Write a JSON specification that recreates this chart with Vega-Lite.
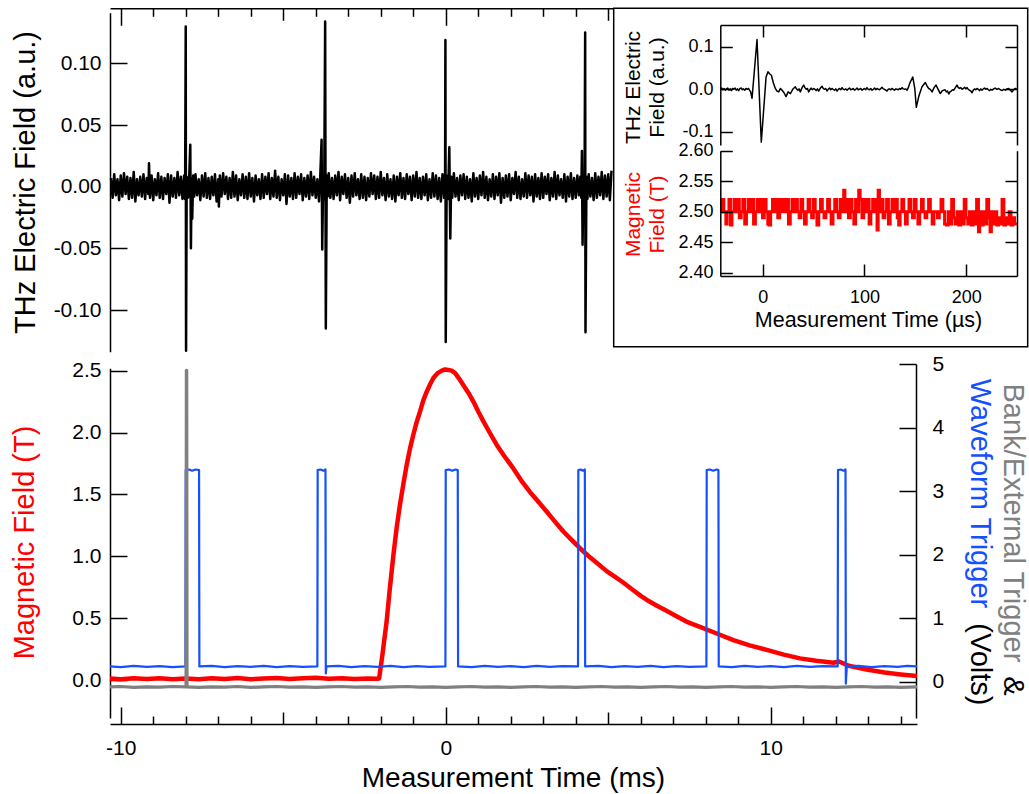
{
"$schema": "https://vega.github.io/schema/vega-lite/v6.json",
"width": 1029, "height": 794, "padding": 0, "autosize": {"type": "none"},
"background": "white",
"config": {
  "view": {"stroke": null},
  "font": "Liberation Sans",
  "axis": {"domainColor": "black", "tickColor": "black", "domainWidth": 1.5, "tickWidth": 1.5, "labelFont": "Liberation Sans", "titleFont": "Liberation Sans", "labelColor": "black", "titleColor": "black", "labelFontSize": 21, "titleFontSize": 29, "titleFontWeight": "normal", "grid": false, "labelFlush": false, "labelOverlap": false, "labelBound": false, "titlePadding": 0}
},
"resolve": {"scale": {"x": "independent", "y": "independent"}, "axis": {"x": "independent", "y": "independent"}},
"layer": [
{
  "data": {"values": [
{"t":-10.30,"e":0.007},{"t":-10.25,"e":-0.009},{"t":-10.20,"e":0.010},{"t":-10.15,"e":-0.007},{"t":-10.10,"e":0.006},{"t":-10.05,"e":-0.011},{"t":-10.00,"e":0.009},{"t":-9.95,"e":-0.008},{"t":-9.90,"e":0.011},{"t":-9.85,"e":-0.006},{"t":-9.80,"e":0.008},{"t":-9.75,"e":-0.010},{"t":-9.70,"e":0.007},{"t":-9.65,"e":-0.009},{"t":-9.60,"e":0.012},{"t":-9.55,"e":-0.012},{"t":-9.50,"e":0.006},{"t":-9.45,"e":-0.007},{"t":-9.40,"e":0.008},{"t":-9.35,"e":-0.008},{"t":-9.30,"e":0.010},{"t":-9.25,"e":-0.010},{"t":-9.20,"e":0.007},{"t":-9.15,"e":-0.006},{"t":-9.13,"e":0.019},{"t":-9.10,"e":-0.009},{"t":-9.05,"e":0.009},{"t":-9.00,"e":-0.011},{"t":-8.95,"e":0.006},{"t":-8.90,"e":-0.007},{"t":-8.85,"e":0.011},{"t":-8.80,"e":-0.009},{"t":-8.75,"e":0.008},{"t":-8.70,"e":-0.010},{"t":-8.65,"e":0.007},{"t":-8.60,"e":-0.006},{"t":-8.55,"e":0.010},{"t":-8.50,"e":-0.013},{"t":-8.45,"e":0.009},{"t":-8.40,"e":-0.008},{"t":-8.35,"e":0.007},{"t":-8.30,"e":-0.009},{"t":-8.25,"e":0.012},{"t":-8.20,"e":-0.007},{"t":-8.15,"e":0.008},{"t":-8.10,"e":-0.010},{"t":-8.05,"e":0.009},
{"t":-8.02,"e":-0.010},{"t":-8.00,"e":0.130},{"t":-7.99,"e":-0.133},{"t":-7.97,"e":0.008},{"t":-7.93,"e":-0.009},{"t":-7.89,"e":0.010},{"t":-7.86,"e":0.034},{"t":-7.84,"e":-0.050},{"t":-7.82,"e":0.007},{"t":-7.80,"e":-0.026},{"t":-7.77,"e":0.009},{"t":-7.74,"e":-0.008},
{"t":-7.70,"e":0.010},{"t":-7.65,"e":-0.007},{"t":-7.60,"e":0.006},{"t":-7.55,"e":-0.011},{"t":-7.50,"e":0.009},{"t":-7.45,"e":-0.008},{"t":-7.40,"e":0.011},{"t":-7.35,"e":-0.009},{"t":-7.30,"e":0.007},{"t":-7.25,"e":-0.010},{"t":-7.20,"e":0.008},{"t":-7.15,"e":-0.007},{"t":-7.10,"e":0.010},{"t":-7.05,"e":-0.012},{"t":-7.00,"e":0.006},{"t":-6.98,"e":-0.016},{"t":-6.95,"e":0.009},{"t":-6.90,"e":-0.008},{"t":-6.85,"e":0.011},{"t":-6.80,"e":-0.006},{"t":-6.75,"e":0.008},{"t":-6.70,"e":-0.010},{"t":-6.65,"e":0.007},{"t":-6.60,"e":-0.009},{"t":-6.55,"e":0.012},{"t":-6.50,"e":-0.008},{"t":-6.45,"e":0.009},{"t":-6.40,"e":-0.011},{"t":-6.35,"e":0.006},{"t":-6.30,"e":-0.007},{"t":-6.25,"e":0.010},{"t":-6.20,"e":-0.009},{"t":-6.15,"e":0.008},{"t":-6.10,"e":-0.010},{"t":-6.05,"e":0.011},{"t":-6.00,"e":-0.008},{"t":-5.95,"e":0.007},{"t":-5.90,"e":-0.012},{"t":-5.85,"e":0.009},{"t":-5.80,"e":-0.007},{"t":-5.75,"e":0.006},{"t":-5.70,"e":-0.010},{"t":-5.65,"e":0.010},{"t":-5.60,"e":-0.009},{"t":-5.55,"e":0.008},{"t":-5.50,"e":-0.006},{"t":-5.45,"e":0.011},{"t":-5.40,"e":-0.010},{"t":-5.35,"e":0.007},{"t":-5.30,"e":-0.008},{"t":-5.25,"e":0.013},{"t":-5.20,"e":-0.009},{"t":-5.15,"e":0.008},{"t":-5.10,"e":-0.011},{"t":-5.05,"e":0.006},{"t":-5.00,"e":-0.007},{"t":-4.95,"e":0.010},{"t":-4.90,"e":-0.014},{"t":-4.85,"e":0.009},{"t":-4.80,"e":-0.008},{"t":-4.75,"e":0.007},{"t":-4.70,"e":-0.010},{"t":-4.65,"e":0.011},{"t":-4.60,"e":-0.009},{"t":-4.55,"e":0.008},{"t":-4.50,"e":-0.006},{"t":-4.45,"e":0.010},{"t":-4.40,"e":-0.011},{"t":-4.35,"e":0.007},{"t":-4.30,"e":-0.008},{"t":-4.25,"e":0.009},{"t":-4.20,"e":-0.010},{"t":-4.15,"e":0.012},{"t":-4.10,"e":-0.007},{"t":-4.05,"e":0.008},{"t":-4.00,"e":-0.009},{"t":-3.95,"e":0.006},{"t":-3.90,"e":-0.012},{"t":-3.86,"e":0.009},
{"t":-3.82,"e":0.038},{"t":-3.80,"e":-0.051},{"t":-3.77,"e":0.008},{"t":-3.74,"e":-0.010},{"t":-3.71,"e":0.134},{"t":-3.69,"e":-0.115},{"t":-3.66,"e":0.009},{"t":-3.63,"e":-0.008},
{"t":-3.60,"e":0.011},{"t":-3.55,"e":-0.009},{"t":-3.50,"e":0.007},{"t":-3.45,"e":-0.010},{"t":-3.40,"e":0.009},{"t":-3.35,"e":-0.007},{"t":-3.30,"e":0.012},{"t":-3.25,"e":-0.011},{"t":-3.20,"e":0.008},{"t":-3.15,"e":-0.006},{"t":-3.10,"e":0.010},{"t":-3.05,"e":-0.009},{"t":-3.00,"e":0.007},{"t":-2.95,"e":-0.013},{"t":-2.90,"e":0.009},{"t":-2.85,"e":-0.008},{"t":-2.80,"e":0.011},{"t":-2.75,"e":-0.007},{"t":-2.70,"e":0.006},{"t":-2.65,"e":-0.010},{"t":-2.60,"e":0.010},{"t":-2.55,"e":-0.009},{"t":-2.50,"e":0.008},{"t":-2.45,"e":-0.011},{"t":-2.40,"e":0.007},{"t":-2.35,"e":-0.008},{"t":-2.30,"e":0.011},{"t":-2.25,"e":-0.006},{"t":-2.20,"e":0.009},{"t":-2.15,"e":-0.010},{"t":-2.10,"e":0.008},{"t":-2.05,"e":-0.009},{"t":-2.00,"e":0.012},{"t":-1.95,"e":-0.007},{"t":-1.90,"e":0.007},{"t":-1.85,"e":-0.011},{"t":-1.80,"e":0.010},{"t":-1.75,"e":-0.008},{"t":-1.70,"e":0.006},{"t":-1.65,"e":-0.010},{"t":-1.60,"e":0.009},{"t":-1.55,"e":-0.012},{"t":-1.50,"e":0.008},{"t":-1.45,"e":-0.007},{"t":-1.40,"e":0.011},{"t":-1.35,"e":-0.009},{"t":-1.30,"e":0.007},{"t":-1.25,"e":-0.010},{"t":-1.20,"e":0.010},{"t":-1.15,"e":-0.006},{"t":-1.10,"e":0.008},{"t":-1.05,"e":-0.011},{"t":-1.00,"e":0.009},{"t":-0.95,"e":-0.008},{"t":-0.90,"e":0.012},{"t":-0.85,"e":-0.009},{"t":-0.80,"e":0.007},{"t":-0.75,"e":-0.010},{"t":-0.70,"e":0.008},{"t":-0.65,"e":-0.007},{"t":-0.60,"e":0.010},{"t":-0.55,"e":-0.011},{"t":-0.50,"e":0.006},{"t":-0.45,"e":-0.009},{"t":-0.40,"e":0.011},{"t":-0.35,"e":-0.008},{"t":-0.30,"e":0.009},{"t":-0.25,"e":-0.010},{"t":-0.20,"e":0.007},{"t":-0.15,"e":-0.012},{"t":-0.10,"e":0.010},{"t":-0.05,"e":-0.009},
{"t":-0.02,"e":0.008},{"t":-0.01,"e":0.119},{"t":0.00,"e":-0.126},{"t":0.03,"e":0.009},{"t":0.07,"e":-0.010},{"t":0.11,"e":0.032},{"t":0.14,"e":-0.042},{"t":0.17,"e":0.008},{"t":0.20,"e":-0.009},
{"t":0.25,"e":0.011},{"t":0.30,"e":-0.008},{"t":0.35,"e":0.007},{"t":0.40,"e":-0.011},{"t":0.45,"e":0.009},{"t":0.50,"e":-0.007},{"t":0.55,"e":0.010},{"t":0.60,"e":-0.010},{"t":0.65,"e":0.008},{"t":0.70,"e":-0.009},{"t":0.75,"e":0.006},{"t":0.80,"e":-0.012},{"t":0.85,"e":0.011},{"t":0.90,"e":-0.008},{"t":0.95,"e":0.007},{"t":1.00,"e":-0.010},{"t":1.05,"e":0.009},{"t":1.10,"e":-0.007},{"t":1.15,"e":0.012},{"t":1.20,"e":-0.009},{"t":1.25,"e":0.008},{"t":1.30,"e":-0.011},{"t":1.35,"e":0.006},{"t":1.40,"e":-0.008},{"t":1.45,"e":0.010},{"t":1.50,"e":-0.010},{"t":1.55,"e":0.008},{"t":1.60,"e":-0.007},{"t":1.65,"e":0.011},{"t":1.70,"e":-0.013},{"t":1.75,"e":0.007},{"t":1.80,"e":-0.009},{"t":1.85,"e":0.009},{"t":1.90,"e":-0.008},{"t":1.95,"e":0.010},{"t":2.00,"e":-0.011},{"t":2.05,"e":0.007},{"t":2.10,"e":-0.006},{"t":2.15,"e":0.012},{"t":2.20,"e":-0.009},{"t":2.25,"e":0.008},{"t":2.30,"e":-0.010},{"t":2.35,"e":0.006},{"t":2.40,"e":-0.008},{"t":2.45,"e":0.011},{"t":2.50,"e":-0.009},{"t":2.55,"e":0.009},{"t":2.60,"e":-0.007},{"t":2.65,"e":0.008},{"t":2.70,"e":-0.012},{"t":2.75,"e":0.010},{"t":2.80,"e":-0.008},{"t":2.85,"e":0.007},{"t":2.90,"e":-0.010},{"t":2.95,"e":0.011},{"t":3.00,"e":-0.009},{"t":3.05,"e":0.008},{"t":3.10,"e":-0.006},{"t":3.15,"e":0.010},{"t":3.20,"e":-0.011},{"t":3.25,"e":0.007},{"t":3.30,"e":-0.008},{"t":3.35,"e":0.012},{"t":3.40,"e":-0.010},{"t":3.45,"e":0.009},{"t":3.50,"e":-0.007},{"t":3.55,"e":0.006},{"t":3.60,"e":-0.009},{"t":3.65,"e":0.010},{"t":3.70,"e":-0.012},{"t":3.75,"e":0.008},{"t":3.80,"e":-0.008},{"t":3.85,"e":0.011},{"t":3.90,"e":-0.010},{"t":3.95,"e":0.007},{"t":4.00,"e":-0.009},{"t":4.05,"e":0.009},{"t":4.10,"e":-0.007},{"t":4.14,"e":0.008},
{"t":4.17,"e":-0.009},{"t":4.19,"e":0.029},{"t":4.21,"e":-0.047},{"t":4.24,"e":0.009},{"t":4.27,"e":-0.008},{"t":4.29,"e":0.125},{"t":4.30,"e":-0.118},{"t":4.33,"e":0.008},{"t":4.36,"e":-0.010},
{"t":4.40,"e":0.010},{"t":4.45,"e":-0.008},{"t":4.50,"e":0.007},{"t":4.55,"e":-0.011},{"t":4.60,"e":0.011},{"t":4.65,"e":-0.009},{"t":4.70,"e":0.008},{"t":4.75,"e":-0.007},{"t":4.80,"e":0.012},{"t":4.85,"e":-0.010},{"t":4.90,"e":0.009},{"t":4.95,"e":-0.008},{"t":5.00,"e":0.010},{"t":5.05,"e":-0.011},{"t":5.10,"e":0.013}
  ]},
  "mark": {"type": "line", "color": "black", "strokeWidth": 2.5, "strokeJoin": "round"},
  "encoding": {
    "x": {"field": "t", "type": "quantitative",
      "scale": {"domain": [-10.33, 14.5], "range": [110, 917], "nice": false, "zero": false},
      "axis": {"orient": "top", "offset": -8.3, "values": [-10,-9,-8,-7,-6,-5,-4,-3,-2,-1,0,1,2,3,4,5,6,7,8,9,10,11,12,13,14], "tickSize": {"expr": "datum.value % 10 === 0 ? -17 : (datum.value % 5 === 0 ? -12 : -8)"}, "labels": false, "title": null, "zindex": 0}},
    "y": {"field": "e", "type": "quantitative",
      "scale": {"domain": [-0.1338, 0.1411], "range": [351.7, 12.7], "nice": false, "zero": false},
      "axis": {"orient": "left", "offset": -110, "values": [-0.1,-0.05,0,0.05,0.1], "format": ".2f", "labelExpr": "replace(datum.label, '−', '-')", "tickSize": -17, "labelPadding": 26, "title": "THz Electric Field (a.u.)", "titleX": -85, "titleY": 182, "titleAngle": 270, "titleAlign": "center", "titleBaseline": "middle", "zindex": 0}}
  }
},
{
  "data": {"values": [
{"t":-10.33,"b":0.012},{"t":-10.0,"b":0.006},{"t":-9.6,"b":0.014},{"t":-9.2,"b":0.008},{"t":-8.8,"b":0.015},{"t":-8.4,"b":0.007},{"t":-8.0,"b":0.013},{"t":-7.6,"b":0.006},{"t":-7.2,"b":0.014},{"t":-6.8,"b":0.009},{"t":-6.4,"b":0.016},{"t":-6.0,"b":0.007},{"t":-5.6,"b":0.012},{"t":-5.2,"b":0.017},{"t":-4.8,"b":0.009},{"t":-4.4,"b":0.014},{"t":-4.0,"b":0.018},{"t":-3.6,"b":0.010},{"t":-3.2,"b":0.015},{"t":-2.8,"b":0.009},{"t":-2.4,"b":0.013},{"t":-2.1,"b":0.010},
{"t":-2.05,"b":0.012},{"t":-1.95,"b":0.20},{"t":-1.82,"b":0.47},{"t":-1.72,"b":0.74},{"t":-1.61,"b":1.01},{"t":-1.51,"b":1.23},{"t":-1.41,"b":1.415},{"t":-1.30,"b":1.59},{"t":-1.20,"b":1.74},{"t":-1.10,"b":1.87},{"t":-1.00,"b":1.98},{"t":-0.90,"b":2.08},{"t":-0.79,"b":2.17},{"t":-0.69,"b":2.26},{"t":-0.585,"b":2.33},{"t":-0.48,"b":2.39},{"t":-0.38,"b":2.44},{"t":-0.25,"b":2.48},{"t":-0.12,"b":2.50},{"t":-0.02,"b":2.51},{"t":0.08,"b":2.506},{"t":0.18,"b":2.50},{"t":0.29,"b":2.48},{"t":0.40,"b":2.44},{"t":0.54,"b":2.385},{"t":0.70,"b":2.32},{"t":0.85,"b":2.25},{"t":1.00,"b":2.17},{"t":1.16,"b":2.09},{"t":1.35,"b":2.00},{"t":1.57,"b":1.90},{"t":1.80,"b":1.81},{"t":2.08,"b":1.71},{"t":2.33,"b":1.61},{"t":2.59,"b":1.52},{"t":2.85,"b":1.44},{"t":3.11,"b":1.36},{"t":3.36,"b":1.28},{"t":3.62,"b":1.20},{"t":3.88,"b":1.13},{"t":4.13,"b":1.065},{"t":4.40,"b":1.00},{"t":4.70,"b":0.935},{"t":4.95,"b":0.88},{"t":5.20,"b":0.835},{"t":5.45,"b":0.79},{"t":5.75,"b":0.73},{"t":6.00,"b":0.68},{"t":6.20,"b":0.645},{"t":6.50,"b":0.60},{"t":6.75,"b":0.565},{"t":7.10,"b":0.515},{"t":7.42,"b":0.47},{"t":7.82,"b":0.43},{"t":8.30,"b":0.38},{"t":8.85,"b":0.323},{"t":9.35,"b":0.28},{"t":9.88,"b":0.243},{"t":10.40,"b":0.205},{"t":10.90,"b":0.175},{"t":11.40,"b":0.155},{"t":11.93,"b":0.14},{"t":12.10,"b":0.15},{"t":12.40,"b":0.115},{"t":12.95,"b":0.085},{"t":13.50,"b":0.06},{"t":14.00,"b":0.045},{"t":14.50,"b":0.032}
  ]},
  "mark": {"type": "line", "color": "#ff0000", "strokeWidth": 4.5, "strokeJoin": "round"},
  "encoding": {
    "x": {"field": "t", "type": "quantitative",
      "scale": {"domain": [-10.33, 14.5], "range": [110, 917], "nice": false, "zero": false},
      "axis": {"orient": "bottom", "offset": -70, "values": [-10,-9,-8,-7,-6,-5,-4,-3,-2,-1,0,1,2,3,4,5,6,7,8,9,10,11,12,13,14], "format": "d", "tickSize": {"expr": "datum.value % 10 === 0 ? -17 : (datum.value % 5 === 0 ? -12 : -8)"}, "labelExpr": "datum.value % 10 === 0 ? replace(datum.label, '−', '-') : ''", "labelPadding": 30.7, "labelBaseline": "top", "title": "Measurement Time (ms)", "titleFontSize": 28, "titleX": 513, "titleY": 54.7, "titleAngle": 0, "titleAlign": "center", "titleBaseline": "middle", "zindex": 0}},
    "y": {"field": "b", "type": "quantitative",
      "scale": {"domain": [-0.307, 2.519], "range": [718, 368.3], "nice": false, "zero": false},
      "axis": {"orient": "left", "offset": -110, "values": [0,0.5,1,1.5,2,2.5], "format": ".1f", "tickSize": -17, "labelPadding": 26, "title": "Magnetic Field (T)", "titleColor": "#ff0000", "titleX": -86, "titleY": 542, "titleAngle": 270, "titleAlign": "center", "titleBaseline": "middle", "zindex": 0}}
  }
},
{
  "data": {"values": [
{"t":-10.33,"v":0.24},{"t":-10.0,"v":0.23},{"t":-9.6,"v":0.25},{"t":-9.2,"v":0.235},{"t":-8.8,"v":0.245},{"t":-8.4,"v":0.23},{"t":-8.01,"v":0.24},{"t":-8.00,"v":3.33},{"t":-7.9,"v":3.34},{"t":-7.8,"v":3.32},{"t":-7.7,"v":3.34},{"t":-7.59,"v":3.33},{"t":-7.58,"v":0.24},{"t":-7.2,"v":0.25},{"t":-6.8,"v":0.23},{"t":-6.4,"v":0.245},{"t":-6.0,"v":0.235},{"t":-5.6,"v":0.25},{"t":-5.2,"v":0.23},{"t":-4.8,"v":0.245},{"t":-4.4,"v":0.235},{"t":-3.95,"v":0.24},{"t":-3.94,"v":3.33},{"t":-3.85,"v":3.34},{"t":-3.76,"v":3.32},{"t":-3.70,"v":3.34},{"t":-3.69,"v":0.13},{"t":-3.67,"v":0.24},{"t":-3.3,"v":0.25},{"t":-2.9,"v":0.23},{"t":-2.5,"v":0.245},{"t":-2.1,"v":0.235},{"t":-1.7,"v":0.25},{"t":-1.3,"v":0.23},{"t":-0.9,"v":0.245},{"t":-0.5,"v":0.235},{"t":-0.01,"v":0.24},{"t":0.00,"v":3.33},{"t":0.10,"v":3.34},{"t":0.20,"v":3.32},{"t":0.30,"v":3.34},{"t":0.37,"v":3.33},{"t":0.38,"v":0.24},{"t":0.8,"v":0.23},{"t":1.2,"v":0.25},{"t":1.6,"v":0.235},{"t":2.0,"v":0.245},{"t":2.4,"v":0.23},{"t":2.8,"v":0.25},{"t":3.2,"v":0.235},{"t":3.6,"v":0.245},{"t":4.07,"v":0.24},{"t":4.08,"v":3.33},{"t":4.15,"v":3.34},{"t":4.22,"v":3.32},{"t":4.28,"v":3.34},{"t":4.29,"v":0.24},{"t":4.7,"v":0.25},{"t":5.1,"v":0.23},{"t":5.5,"v":0.245},{"t":5.9,"v":0.235},{"t":6.3,"v":0.25},{"t":6.7,"v":0.23},{"t":7.1,"v":0.245},{"t":7.5,"v":0.235},{"t":8.02,"v":0.24},{"t":8.03,"v":3.33},{"t":8.13,"v":3.34},{"t":8.23,"v":3.32},{"t":8.33,"v":3.34},{"t":8.39,"v":3.33},{"t":8.40,"v":0.24},{"t":8.8,"v":0.23},{"t":9.2,"v":0.25},{"t":9.6,"v":0.235},{"t":10.0,"v":0.245},{"t":10.4,"v":0.23},{"t":10.8,"v":0.25},{"t":11.2,"v":0.235},{"t":11.6,"v":0.245},{"t":12.06,"v":0.24},{"t":12.07,"v":3.33},{"t":12.15,"v":3.34},{"t":12.24,"v":3.32},{"t":12.30,"v":3.34},{"t":12.31,"v":-0.03},{"t":12.34,"v":0.24},{"t":12.7,"v":0.25},{"t":13.1,"v":0.23},{"t":13.5,"v":0.245},{"t":13.9,"v":0.235},{"t":14.2,"v":0.25},{"t":14.5,"v":0.24}
  ]},
  "mark": {"type": "line", "color": "#1450ff", "strokeWidth": 2.2, "strokeJoin": "round"},
  "encoding": {
    "x": {"field": "t", "type": "quantitative",
      "scale": {"domain": [-10.33, 14.5], "range": [110, 917], "nice": false, "zero": false},
      "axis": {"orient": "bottom", "offset": -70, "domain": false, "ticks": false, "labels": false, "title": "&", "titleX": 1012, "titleY": -29, "titleAngle": 90, "titleAlign": "right", "titleBaseline": "middle", "zindex": 0}},
    "y": {"field": "v", "type": "quantitative",
      "scale": {"domain": [-0.571, 5], "range": [718, 364], "nice": false, "zero": false},
      "axis": {"orient": "right", "offset": -113, "values": [0,1,2,3,4,5], "format": "d", "tickSize": -17, "labelPadding": 33, "title": "Waveform Trigger", "titleColor": "#1450ff", "titleX": 63, "titleY": 378.3, "titleAngle": 90, "titleAlign": "left", "titleBaseline": "middle", "zindex": 0}}
  }
},
{
  "data": {"values": [
{"t":-10.33,"v":-0.08},{"t":-10.0,"v":-0.075},{"t":-9.6,"v":-0.09},{"t":-9.2,"v":-0.08},{"t":-8.8,"v":-0.085},{"t":-8.4,"v":-0.075},{"t":-7.99,"v":-0.08},{"t":-7.98,"v":4.90},{"t":-7.97,"v":4.90},{"t":-7.96,"v":-0.08},{"t":-7.6,"v":-0.09},{"t":-7.2,"v":-0.08},{"t":-6.8,"v":-0.085},{"t":-6.4,"v":-0.075},{"t":-6.0,"v":-0.09},{"t":-5.6,"v":-0.08},{"t":-5.2,"v":-0.075},{"t":-4.8,"v":-0.085},{"t":-4.4,"v":-0.08},{"t":-4.0,"v":-0.09},{"t":-3.6,"v":-0.08},{"t":-3.2,"v":-0.075},{"t":-2.8,"v":-0.085},{"t":-2.4,"v":-0.08},{"t":-2.0,"v":-0.09},{"t":-1.6,"v":-0.08},{"t":-1.2,"v":-0.075},{"t":-0.8,"v":-0.085},{"t":-0.4,"v":-0.08},{"t":0.0,"v":-0.09},{"t":0.4,"v":-0.08},{"t":0.8,"v":-0.075},{"t":1.2,"v":-0.085},{"t":1.6,"v":-0.08},{"t":2.0,"v":-0.09},{"t":2.4,"v":-0.08},{"t":2.8,"v":-0.075},{"t":3.2,"v":-0.085},{"t":3.6,"v":-0.08},{"t":4.0,"v":-0.09},{"t":4.4,"v":-0.08},{"t":4.8,"v":-0.075},{"t":5.2,"v":-0.085},{"t":5.6,"v":-0.08},{"t":6.0,"v":-0.09},{"t":6.4,"v":-0.08},{"t":6.8,"v":-0.075},{"t":7.2,"v":-0.085},{"t":7.6,"v":-0.08},{"t":8.0,"v":-0.09},{"t":8.4,"v":-0.08},{"t":8.8,"v":-0.075},{"t":9.2,"v":-0.085},{"t":9.6,"v":-0.08},{"t":10.0,"v":-0.09},{"t":10.4,"v":-0.08},{"t":10.8,"v":-0.075},{"t":11.2,"v":-0.085},{"t":11.6,"v":-0.08},{"t":12.0,"v":-0.09},{"t":12.4,"v":-0.08},{"t":12.8,"v":-0.075},{"t":13.2,"v":-0.085},{"t":13.6,"v":-0.08},{"t":14.0,"v":-0.09},{"t":14.5,"v":-0.08}
  ]},
  "mark": {"type": "line", "color": "#808080", "strokeWidth": 3.2, "strokeJoin": "round"},
  "encoding": {
    "x": {"field": "t", "type": "quantitative",
      "scale": {"domain": [-10.33, 14.5], "range": [110, 917], "nice": false, "zero": false},
      "axis": {"orient": "bottom", "offset": -70, "domain": false, "ticks": false, "labels": false, "title": "(Volts)", "titleX": 979, "titleY": -19, "titleAngle": 90, "titleAlign": "right", "titleBaseline": "middle", "zindex": 0}},
    "y": {"field": "v", "type": "quantitative",
      "scale": {"domain": [-0.571, 5], "range": [718, 364], "nice": false, "zero": false},
      "axis": {"orient": "right", "offset": -113, "domain": false, "ticks": false, "labels": false, "title": "Bank/External Trigger", "titleColor": "#808080", "titleX": 96, "titleY": 383, "titleAngle": 90, "titleAlign": "left", "titleBaseline": "middle", "zindex": 0}}
  }
},
{
  "data": {"values": [{}]},
  "mark": {"type": "rect", "fill": "white", "stroke": "black", "strokeWidth": 1.5},
  "encoding": {
    "x": {"datum": 0, "type": "quantitative", "scale": {"domain": [0, 1], "range": [613.7, 1027.7], "nice": false, "zero": false}, "axis": null},
    "x2": {"datum": 1},
    "y": {"datum": 0, "type": "quantitative", "scale": {"domain": [0, 1], "range": [346.7, 8.3], "nice": false, "zero": false}, "axis": null},
    "y2": {"datum": 1}
  }
},
{
  "data": {"values": [
{"u":-41.5,"e":0.000},{"u":-40.3,"e":0.003},{"u":-39.2,"e":-0.001},{"u":-38.0,"e":0.002},{"u":-36.8,"e":-0.002},{"u":-35.6,"e":0.001},{"u":-34.4,"e":0.003},{"u":-33.2,"e":-0.002},{"u":-32.0,"e":0.001},{"u":-30.8,"e":-0.003},{"u":-29.6,"e":0.002},{"u":-28.4,"e":0.000},{"u":-27.2,"e":0.003},{"u":-26.0,"e":-0.002},{"u":-24.8,"e":0.001},{"u":-23.6,"e":-0.003},{"u":-22.4,"e":0.002},{"u":-21.2,"e":0.003},{"u":-20.0,"e":-0.001},{"u":-18.8,"e":0.001},{"u":-17.6,"e":-0.002},{"u":-16.4,"e":0.002},{"u":-15.2,"e":0.000},{"u":-14.0,"e":0.002},{"u":-13.0,"e":-0.002},{"u":-12.0,"e":-0.005},{"u":-10.5,"e":-0.021},{"u":-5.6,"e":0.117},{"u":-1.4,"e":-0.124},{"u":3.3,"e":0.029},{"u":5.2,"e":0.041},{"u":7.0,"e":0.036},{"u":8.5,"e":0.033},{"u":10.5,"e":0.015},{"u":12.4,"e":0.002},{"u":14.0,"e":-0.004},{"u":15.7,"e":-0.006},{"u":17.5,"e":0.002},{"u":19.0,"e":-0.002},{"u":21.0,"e":-0.008},{"u":22.9,"e":-0.017},{"u":25.0,"e":-0.006},{"u":27.2,"e":-0.010},{"u":29.5,"e":0.000},{"u":32.0,"e":0.006},{"u":33.2,"e":0.001},{"u":34.5,"e":-0.002},{"u":35.7,"e":0.001},{"u":37.0,"e":-0.006},{"u":38.7,"e":0.004},{"u":40.3,"e":0.010},{"u":41.5,"e":0.004},{"u":42.8,"e":0.000},{"u":44.0,"e":0.002},{"u":45.2,"e":-0.006},{"u":46.4,"e":-0.001},{"u":47.5,"e":0.003},{"u":48.8,"e":-0.001},{"u":50.1,"e":0.002},{"u":51.3,"e":0.000},{"u":52.5,"e":-0.003},{"u":53.8,"e":0.001},{"u":55.0,"e":-0.004},{"u":56.7,"e":0.003},{"u":58.3,"e":0.007},{"u":59.5,"e":0.002},{"u":60.8,"e":0.000},{"u":62.0,"e":0.002},{"u":63.2,"e":-0.004},{"u":64.4,"e":0.000},{"u":65.7,"e":0.003},{"u":66.9,"e":-0.001},{"u":68.1,"e":0.002},{"u":69.3,"e":0.000},{"u":70.6,"e":-0.002},{"u":71.8,"e":0.001},{"u":73.1,"e":-0.004},{"u":74.3,"e":0.000},{"u":75.5,"e":0.002},{"u":76.8,"e":-0.001},{"u":78.0,"e":0.004},{"u":79.2,"e":0.000},{"u":80.5,"e":-0.001},{"u":81.7,"e":0.001},{"u":82.9,"e":-0.002},{"u":84.1,"e":0.001},{"u":85.3,"e":0.003},{"u":86.6,"e":-0.001},{"u":87.8,"e":0.000},{"u":89.0,"e":0.002},{"u":90.2,"e":-0.002},{"u":91.5,"e":0.000},{"u":92.7,"e":0.003},{"u":93.9,"e":-0.001},{"u":95.1,"e":0.000},{"u":96.4,"e":0.002},{"u":97.6,"e":-0.002},{"u":98.8,"e":0.000},{"u":100.0,"e":0.002},{"u":101.3,"e":-0.001},{"u":102.5,"e":0.004},{"u":103.7,"e":0.000},{"u":105.0,"e":-0.001},{"u":106.2,"e":0.002},{"u":107.5,"e":-0.002},{"u":108.7,"e":0.000},{"u":110.0,"e":0.003},{"u":111.2,"e":-0.001},{"u":112.4,"e":0.002},{"u":113.6,"e":0.000},{"u":114.9,"e":-0.001},{"u":116.1,"e":0.002},{"u":117.3,"e":0.005},{"u":118.5,"e":0.001},{"u":119.8,"e":0.000},{"u":121.0,"e":-0.002},{"u":122.2,"e":-0.004},{"u":123.4,"e":0.000},{"u":124.6,"e":0.001},{"u":125.9,"e":-0.001},{"u":127.1,"e":0.002},{"u":128.3,"e":0.000},{"u":129.5,"e":-0.002},{"u":130.8,"e":0.001},{"u":132.0,"e":0.000},{"u":133.2,"e":-0.001},{"u":134.5,"e":0.002},{"u":135.7,"e":0.000},{"u":137.0,"e":0.004},{"u":138.2,"e":0.001},{"u":139.5,"e":0.000},{"u":140.7,"e":0.001},{"u":141.9,"e":-0.002},{"u":143.2,"e":0.004},{"u":144.5,"e":0.014},{"u":147.5,"e":0.029},{"u":149.5,"e":0.002},{"u":151.0,"e":-0.042},{"u":153.4,"e":-0.017},{"u":156.6,"e":0.006},{"u":159.9,"e":0.016},{"u":161.5,"e":0.008},{"u":163.2,"e":0.002},{"u":164.8,"e":0.000},{"u":166.5,"e":-0.006},{"u":168.5,"e":0.004},{"u":170.4,"e":0.010},{"u":172.5,"e":0.000},{"u":174.6,"e":-0.010},{"u":176.3,"e":-0.004},{"u":178.0,"e":-0.002},{"u":179.3,"e":-0.001},{"u":180.5,"e":-0.006},{"u":181.7,"e":-0.004},{"u":182.9,"e":-0.011},{"u":184.1,"e":-0.006},{"u":185.3,"e":-0.004},{"u":186.6,"e":-0.001},{"u":187.8,"e":-0.002},{"u":189.4,"e":0.004},{"u":191.0,"e":0.010},{"u":192.3,"e":0.004},{"u":193.5,"e":0.002},{"u":194.8,"e":0.004},{"u":196.0,"e":0.000},{"u":197.3,"e":0.002},{"u":198.5,"e":0.005},{"u":199.7,"e":0.001},{"u":200.9,"e":0.004},{"u":202.1,"e":0.000},{"u":203.3,"e":-0.002},{"u":204.6,"e":-0.004},{"u":205.8,"e":-0.008},{"u":207.0,"e":-0.002},{"u":208.2,"e":0.001},{"u":209.5,"e":-0.001},{"u":210.7,"e":0.002},{"u":211.9,"e":0.000},{"u":213.1,"e":-0.003},{"u":214.4,"e":0.001},{"u":215.6,"e":-0.002},{"u":216.8,"e":0.001},{"u":218.1,"e":0.003},{"u":219.3,"e":0.000},{"u":220.6,"e":0.002},{"u":221.8,"e":-0.001},{"u":223.0,"e":-0.003},{"u":224.2,"e":0.000},{"u":225.5,"e":-0.002},{"u":227.1,"e":0.001},{"u":228.7,"e":0.003},{"u":230.3,"e":0.000},{"u":232.0,"e":0.002},{"u":233.6,"e":-0.001},{"u":235.3,"e":-0.003},{"u":236.9,"e":0.000},{"u":238.6,"e":-0.002},{"u":240.2,"e":0.001},{"u":241.8,"e":0.002},{"u":243.5,"e":-0.002},{"u":245.1,"e":-0.006},{"u":246.7,"e":-0.001},{"u":248.4,"e":0.002},{"u":249.8,"e":0.000}
  ]},
  "mark": {"type": "line", "color": "black", "strokeWidth": 1.5, "strokeJoin": "round"},
  "encoding": {
    "x": {"field": "u", "type": "quantitative",
      "scale": {"domain": [-41.7, 250], "range": [720.3, 1017], "nice": false, "zero": false},
      "axis": {"orient": "top", "offset": -25, "values": [0, 100, 200], "tickSize": -12, "labels": false, "title": null, "zindex": 1}},
    "y": {"field": "e", "type": "quantitative",
      "scale": {"domain": [-0.1307, 0.151], "range": [145, 25], "nice": false, "zero": false},
      "axis": {"orient": "left", "offset": -720.3, "values": [-0.1, 0, 0.1], "format": ".1f", "labelExpr": "replace(datum.label, '−', '-')", "tickSize": -12, "labelPadding": 19.3, "labelFontSize": 18, "title": ["THz Electric", "Field (a.u.)"], "titleFontSize": 21, "titleLineHeight": 23.5, "titleX": -86.8, "titleY": 87, "titleAngle": 270, "titleAlign": "center", "titleBaseline": "middle", "zindex": 1}}
  }
},
{
  "data": {"values": [
{"u":-41.7,"b":2.50},{"u":-39.7,"b":2.52},{"u":-38.2,"b":2.50},{"u":-36.2,"b":2.48},{"u":-35.0,"b":2.50},{"u":-33.2,"b":2.52},{"u":-31.7,"b":2.478},{"u":-30.2,"b":2.50},{"u":-28.2,"b":2.52},{"u":-26.5,"b":2.50},{"u":-24.7,"b":2.52},{"u":-23.0,"b":2.49},{"u":-21.2,"b":2.50},{"u":-19.5,"b":2.52},{"u":-17.7,"b":2.48},{"u":-16.0,"b":2.50},{"u":-14.2,"b":2.52},{"u":-12.5,"b":2.50},{"u":-10.7,"b":2.52},{"u":-9.0,"b":2.48},{"u":-7.2,"b":2.50},{"u":-5.5,"b":2.52},{"u":-3.7,"b":2.50},{"u":-2.0,"b":2.52},{"u":-0.2,"b":2.49},{"u":1.5,"b":2.52},{"u":3.3,"b":2.50},{"u":5.0,"b":2.48},{"u":6.1,"b":2.478},{"u":7.8,"b":2.50},{"u":9.6,"b":2.52},{"u":11.3,"b":2.50},{"u":13.1,"b":2.52},{"u":14.8,"b":2.49},{"u":16.6,"b":2.52},{"u":18.3,"b":2.50},{"u":20.1,"b":2.52},{"u":21.8,"b":2.50},{"u":23.6,"b":2.52},{"u":25.3,"b":2.48},{"u":27.1,"b":2.50},{"u":28.8,"b":2.52},{"u":30.6,"b":2.50},{"u":32.3,"b":2.52},{"u":34.1,"b":2.50},{"u":35.8,"b":2.49},{"u":37.6,"b":2.52},{"u":39.3,"b":2.50},{"u":41.1,"b":2.48},{"u":42.8,"b":2.50},{"u":44.6,"b":2.52},{"u":46.3,"b":2.50},{"u":48.1,"b":2.49},{"u":49.8,"b":2.52},{"u":51.6,"b":2.50},{"u":53.3,"b":2.478},{"u":55.1,"b":2.50},{"u":56.8,"b":2.52},{"u":58.6,"b":2.50},{"u":60.3,"b":2.49},{"u":62.1,"b":2.50},{"u":63.8,"b":2.52},{"u":65.6,"b":2.50},{"u":67.3,"b":2.48},{"u":69.1,"b":2.50},{"u":70.8,"b":2.52},{"u":72.6,"b":2.50},{"u":74.3,"b":2.49},{"u":76.1,"b":2.52},{"u":77.8,"b":2.50},{"u":79.6,"b":2.535},{"u":80.8,"b":2.50},{"u":82.6,"b":2.52},{"u":84.3,"b":2.49},{"u":86.1,"b":2.52},{"u":87.8,"b":2.50},{"u":89.6,"b":2.48},{"u":91.3,"b":2.52},{"u":93.1,"b":2.50},{"u":94.4,"b":2.535},{"u":95.8,"b":2.52},{"u":97.6,"b":2.49},{"u":99.3,"b":2.52},{"u":101.1,"b":2.50},{"u":102.8,"b":2.52},{"u":104.6,"b":2.48},{"u":106.3,"b":2.50},{"u":108.1,"b":2.52},{"u":109.8,"b":2.50},{"u":111.6,"b":2.52},{"u":112.4,"b":2.47},{"u":113.5,"b":2.535},{"u":114.8,"b":2.50},{"u":116.6,"b":2.52},{"u":118.3,"b":2.49},{"u":120.1,"b":2.50},{"u":121.8,"b":2.52},{"u":123.6,"b":2.48},{"u":125.3,"b":2.50},{"u":127.1,"b":2.52},{"u":128.8,"b":2.50},{"u":130.6,"b":2.52},{"u":132.3,"b":2.49},{"u":133.7,"b":2.478},{"u":135.1,"b":2.50},{"u":136.8,"b":2.52},{"u":138.6,"b":2.50},{"u":140.3,"b":2.48},{"u":142.1,"b":2.50},{"u":143.8,"b":2.52},{"u":145.6,"b":2.50},{"u":147.3,"b":2.49},{"u":149.1,"b":2.52},{"u":150.8,"b":2.50},{"u":152.6,"b":2.48},{"u":154.3,"b":2.50},{"u":156.1,"b":2.52},{"u":157.8,"b":2.50},{"u":159.6,"b":2.49},{"u":161.3,"b":2.50},{"u":163.1,"b":2.52},{"u":164.8,"b":2.50},{"u":166.6,"b":2.48},{"u":168.3,"b":2.50},{"u":171.8,"b":2.49},{"u":173.6,"b":2.50},{"u":175.3,"b":2.52},{"u":177.1,"b":2.50},{"u":178.8,"b":2.48},{"u":180.6,"b":2.478},{"u":182.3,"b":2.50},{"u":184.1,"b":2.48},{"u":185.8,"b":2.52},{"u":187.6,"b":2.49},{"u":189.3,"b":2.48},{"u":191.1,"b":2.50},{"u":192.8,"b":2.478},{"u":194.6,"b":2.50},{"u":196.3,"b":2.48},{"u":198.1,"b":2.52},{"u":199.8,"b":2.49},{"u":201.6,"b":2.48},{"u":203.3,"b":2.50},{"u":205.1,"b":2.478},{"u":206.8,"b":2.50},{"u":208.6,"b":2.48},{"u":210.3,"b":2.52},{"u":212.1,"b":2.467},{"u":213.3,"b":2.50},{"u":215.1,"b":2.478},{"u":216.8,"b":2.50},{"u":218.6,"b":2.48},{"u":220.3,"b":2.52},{"u":222.1,"b":2.49},{"u":223.5,"b":2.467},{"u":224.8,"b":2.50},{"u":226.6,"b":2.48},{"u":228.3,"b":2.50},{"u":230.1,"b":2.478},{"u":231.8,"b":2.49},{"u":233.6,"b":2.48},{"u":235.3,"b":2.52},{"u":237.1,"b":2.478},{"u":238.8,"b":2.49},{"u":240.6,"b":2.48},{"u":242.3,"b":2.50},{"u":244.1,"b":2.478},{"u":245.8,"b":2.49},{"u":247.6,"b":2.48},{"u":249.9,"b":2.48}
  ]},
  "mark": {"type": "line", "color": "#ff0000", "strokeWidth": 3, "interpolate": "step-after"},
  "encoding": {
    "x": {"field": "u", "type": "quantitative",
      "scale": {"domain": [-41.7, 250], "range": [720.3, 1017], "nice": false, "zero": false},
      "axis": {"orient": "bottom", "offset": -518, "values": [0, 100, 200], "tickSize": -12, "labelPadding": 24, "labelBaseline": "top", "labelFontSize": 18, "title": "Measurement Time (µs)", "titleFontSize": 21.5, "titleX": 868, "titleY": 44.8, "titleAngle": 0, "titleAlign": "center", "titleBaseline": "middle", "zindex": 1}},
    "y": {"field": "b", "type": "quantitative",
      "scale": {"domain": [2.3946, 2.6], "range": [276, 150.7], "nice": false, "zero": false},
      "axis": {"orient": "left", "offset": -720.3, "values": [2.4, 2.45, 2.5, 2.55, 2.6], "format": ".2f", "tickSize": -12, "labelPadding": 19.3, "labelFontSize": 18, "title": ["Magnetic", "Field (T)"], "titleColor": "#ff0000", "titleFontSize": 21, "titleLineHeight": 23.5, "titleX": -86.8, "titleY": 214, "titleAngle": 270, "titleAlign": "center", "titleBaseline": "middle", "zindex": 1}}
  }
},
{
  "data": {"values": [{}]},
  "mark": {"type": "rule", "strokeOpacity": 0},
  "encoding": {
    "y": {"datum": 0, "type": "quantitative",
      "scale": {"domain": [-0.1307, 0.151], "range": [145, 25], "nice": false, "zero": false},
      "axis": {"orient": "right", "offset": -12, "values": [-0.1, 0, 0.1], "tickSize": -12, "labels": false, "title": null, "zindex": 1}}
  }
},
{
  "data": {"values": [{}]},
  "mark": {"type": "rule", "strokeOpacity": 0},
  "encoding": {
    "y": {"datum": 2.5, "type": "quantitative",
      "scale": {"domain": [2.3946, 2.6], "range": [276, 150.7], "nice": false, "zero": false},
      "axis": {"orient": "right", "offset": -12, "values": [2.45, 2.5, 2.55], "tickSize": -12, "labels": false, "title": null, "zindex": 1}}
  }
}
]
}
